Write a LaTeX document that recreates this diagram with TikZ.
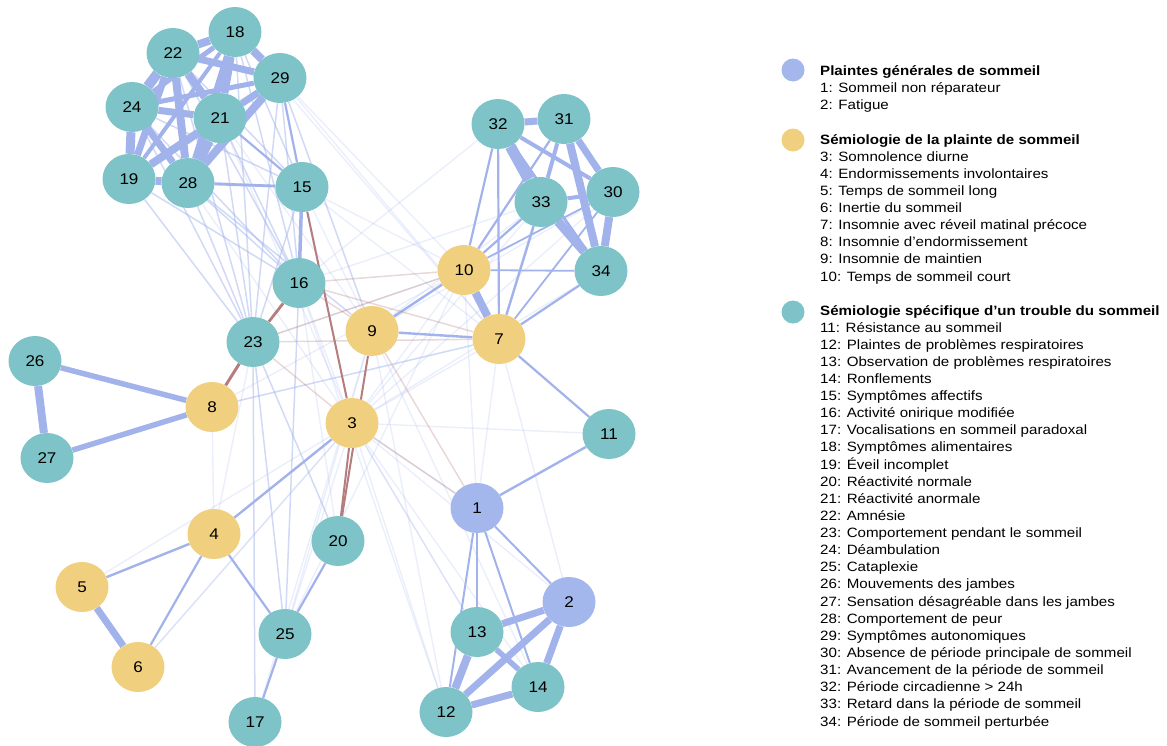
\documentclass[tikz,border=0pt]{standalone}
\usepackage{fontspec}
\setmainfont{Liberation Sans}
\newfontfamily\legfont[FakeStretch=1.12]{Liberation Sans}
\newfontfamily\numfont[FakeStretch=1.1]{Liberation Sans}
\usetikzlibrary{shapes.geometric,backgrounds}
\definecolor{cgen}{HTML}{A4B7EC}
\definecolor{csem}{HTML}{F0D07E}
\definecolor{cspe}{HTML}{7DC3C7}
\definecolor{epos}{HTML}{A2B3EC}
\definecolor{eneg}{HTML}{B57D7D}
\tikzset{
  nd/.style={ellipse, minimum width=53pt, minimum height=50pt, inner sep=0pt, font=\numfont\fontsize{15.5}{15.5}\selectfont, text=black},
  gen/.style={nd, fill=cgen},
  sem/.style={nd, fill=csem},
  spe/.style={nd, fill=cspe},
  edgep/.style={draw=epos},
  edgel/.style={draw=epos, opacity=0.5, line width=1.5pt},
  edgef/.style={draw=epos, opacity=0.22, line width=1.4pt},
  negs/.style={draw=eneg, line width=2pt},
  negf/.style={draw=eneg, opacity=0.3, line width=1.5pt},
  leg/.style={anchor=base west, inner sep=0pt, font=\legfont\fontsize{13.5}{13.5}\selectfont},
  legh/.style={leg, font=\legfont\fontsize{13.5}{13.5}\selectfont\bfseries},
  legdot/.style={circle, minimum size=23pt, inner sep=0pt}
}
\begin{document}
\begin{tikzpicture}[x=1pt,y=-1pt]
\useasboundingbox (0,0) rectangle (1167,745);
% nodes
\node[spe] (n18) at (235,32) {18};
\node[spe] (n22) at (173,53) {22};
\node[spe] (n29) at (280,78) {29};
\node[spe] (n24) at (132,107) {24};
\node[spe] (n21) at (220,118) {21};
\node[spe] (n19) at (129,179) {19};
\node[spe] (n28) at (188,183) {28};
\node[spe] (n15) at (302,187) {15};
\node[spe] (n16) at (299,283) {16};
\node[spe] (n32) at (498,124) {32};
\node[spe] (n31) at (564,119) {31};
\node[spe] (n33) at (541,202) {33};
\node[spe] (n30) at (613,192) {30};
\node[spe] (n34) at (601,271) {34};
\node[sem] (n10) at (464,270) {10};
\node[sem] (n7) at (499,339) {7};
\node[sem] (n9) at (372,331) {9};
\node[spe] (n23) at (253,342) {23};
\node[spe] (n26) at (35,361) {26};
\node[sem] (n8) at (212,407) {8};
\node[spe] (n27) at (47,458) {27};
\node[sem] (n3) at (352,423) {3};
\node[spe] (n11) at (609,434) {11};
\node[gen] (n1) at (477,508) {1};
\node[sem] (n4) at (214,534) {4};
\node[spe] (n20) at (338,541) {20};
\node[gen] (n2) at (569,602) {2};
\node[sem] (n5) at (82,587) {5};
\node[spe] (n25) at (285,634) {25};
\node[spe] (n13) at (477,632) {13};
\node[spe] (n14) at (538,687) {14};
\node[sem] (n6) at (138,667) {6};
\node[spe] (n12) at (446,712) {12};
\node[spe] (n17) at (255,722) {17};
\begin{pgfonlayer}{background}
% very faint positive edges
\foreach \a/\b in {29/10,29/7,18/7,21/9,15/7,15/10,15/9,29/3,21/3,28/3,
  3/12,3/13,3/14,3/2,3/10,3/7,3/33,3/34,3/30,3/16,8/10,8/4,12/9,1/10,1/7,
  5/3,6/3,25/3,25/9,7/31,9/33,9/30,10/23,16/33,16/32,3/11,3/6,4/23,20/16,
  25/10,17/9,13/3,1/3,12/16,14/9,2/7}
  \draw[edgef] (n\a) -- (n\b);
% light positive edges
\foreach \a/\b in {15/18,15/22,15/24,15/19,16/19,16/24,16/28,16/21,16/22,16/18,16/29,
  23/19,23/24,23/28,23/21,23/22,23/18,23/29,23/15,25/23,25/16,17/23,8/7,23/20,28/9,29/9}
  \draw[edgel] (n\a) -- (n\b);
% medium positive edges
\foreach \a/\b/\w in {15/29/2.2,15/21/2.2,15/28/2.8,15/16/3.5,
  10/32/2.2,10/31/2.2,10/33/2.2,10/30/1.8,10/34/1.8,7/32/2.2,7/33/2.4,7/34/2.2,7/30/1.8,7/11/2.2,7/9/2.4,9/10/2.4,
  1/11/2.4,1/13/2,1/12/2,1/14/2,1/2/2,
  4/5/2.4,4/6/2.2,4/25/2.2,4/3/2.4,20/25/2.2,25/17/2.2}
  \draw[edgep, line width=\w pt] (n\a) -- (n\b);
% thick positive edges
\foreach \a/\b/\w in {22/18/8,18/29/8,22/29/7,22/24/10,22/21/8,22/19/7,22/28/8,18/21/8,18/24/5,
  18/28/7,18/19/4,29/21/7,29/24/5,29/28/8,29/19/4,24/21/7,24/19/9,24/28/7,21/19/8,21/28/10,19/28/8,
  32/31/7,32/33/11,32/30/4,32/34/3,31/33/4,31/34/8,31/30/7,33/30/4,33/34/9,30/34/8,10/7/8,
  2/13/7,2/12/7,2/14/7,13/12/8,13/14/5.5,12/14/7,26/27/8,26/8/5.5,27/8/5.5,5/6/7}
  \draw[edgep, line width=\w pt] (n\a) -- (n\b);
% negative edges
\foreach \a/\b in {16/10,16/7,23/10,23/7,23/3,3/1,9/1,16/9}
  \draw[negf] (n\a) -- (n\b);
\draw[negs, line width=3pt] (n23) -- (n8);
\draw[negs, line width=2.8pt] (n23) -- (n16);
\draw[negs] (n15) -- (n3);
\draw[negs] (n9) -- (n20);
\draw[negs] (n3) -- (n20);
\end{pgfonlayer}
% legend
\node[legdot, fill=cgen] (d1) at (793,70) {};
\node[legdot, fill=csem] (d2) at (793,140) {};
\node[legdot, fill=cspe] (d3) at (793,312) {};
\node[legh] (h1) at (820,75) {Plaintes générales de sommeil};
\node[leg] (l1) at (820,92.1) {1: Sommeil non réparateur};
\node[leg] (l2) at (820,109.2) {2: Fatigue};
\node[legh] (h2) at (820,144) {Sémiologie de la plainte de sommeil};
\foreach \t [count=\i from 0] in {3: Somnolence diurne, 4: Endormissements involontaires,
  5: Temps de sommeil long, 6: Inertie du sommeil, 7: Insomnie avec réveil matinal précoce,
  8: Insomnie d’endormissement, 9: Insomnie de maintien, 10: Temps de sommeil court}
  \node[leg] (s\i) at (820,161.1+17.13*\i) {\t};
\node[legh] (h3) at (820,315.5) {Sémiologie spécifique d’un trouble du sommeil};
\foreach \t [count=\i from 0] in {11: Résistance au sommeil, 12: Plaintes de problèmes respiratoires,
  13: Observation de problèmes respiratoires, 14: Ronflements, 15: Symptômes affectifs,
  16: Activité onirique modifiée, 17: Vocalisations en sommeil paradoxal, 18: Symptômes alimentaires,
  19: Éveil incomplet, 20: Réactivité normale, 21: Réactivité anormale, 22: Amnésie,
  23: Comportement pendant le sommeil, 24: Déambulation, 25: Cataplexie,
  26: Mouvements des jambes, 27: Sensation désagréable dans les jambes, 28: Comportement de peur,
  29: Symptômes autonomiques, 30: Absence de période principale de sommeil,
  31: Avancement de la période de sommeil, 32: Période circadienne > 24h,
  33: Retard dans la période de sommeil, 34: Période de sommeil perturbée}
  \node[leg] (t\i) at (820,332+17.13*\i) {\t};
\end{tikzpicture}
\end{document}
